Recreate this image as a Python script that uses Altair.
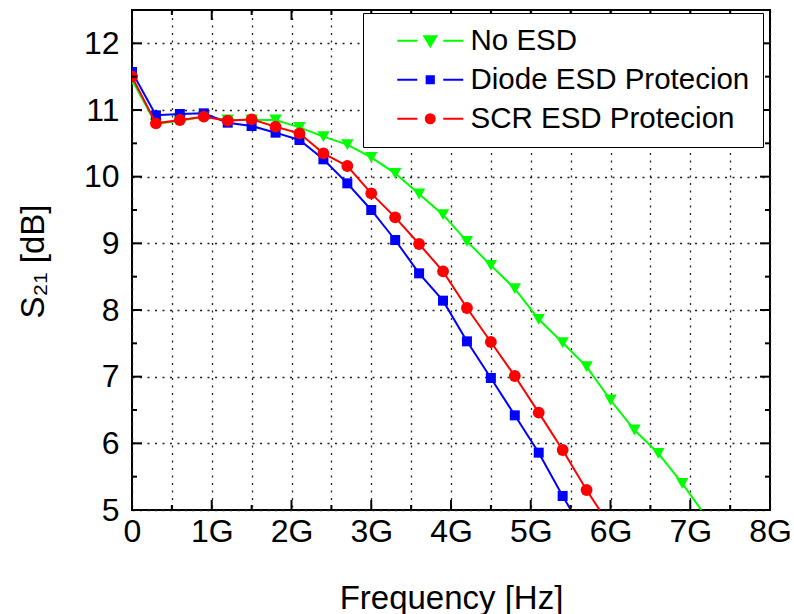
import altair as alt
import pandas as pd

# ---------------- data ----------------
series_names = ["No ESD", "Diode ESD Protecion", "SCR ESD Protecion"]
series_colors = ["#00ff00", "#0000ff", "#ff0000"]
series_shapes = ["triangle-down", "square", "circle"]

freq_ghz = [0.0, 0.3, 0.6, 0.9, 1.2, 1.5, 1.8, 2.1, 2.4, 2.7, 3.0, 3.3, 3.6,
            3.9, 4.2, 4.5, 4.8, 5.1, 5.4, 5.7, 6.0, 6.3, 6.6, 6.9, 7.2]

no_esd = [11.45, 10.79, 10.84, 10.90, 10.85, 10.85, 10.85, 10.74, 10.60, 10.48,
          10.29, 10.05, 9.74, 9.43, 9.03, 8.67, 8.32, 7.86, 7.51, 7.15,
          6.65, 6.20, 5.85, 5.40, 4.90]
diode_esd = [11.57, 10.92, 10.94, 10.95, 10.81, 10.76, 10.66, 10.55, 10.26, 9.90,
             9.50, 9.05, 8.55, 8.14, 7.53, 6.98, 6.42, 5.86, 5.21, 4.60]
scr_esd = [11.50, 10.80, 10.85, 10.90, 10.84, 10.86, 10.75, 10.65, 10.35, 10.16,
           9.75, 9.39, 8.99, 8.58, 8.03, 7.52, 7.01, 6.46, 5.90, 5.30, 4.75]

x_major = [0, 1, 2, 3, 4, 5, 6, 7, 8]
x_minor = [0.5, 1.5, 2.5, 3.5, 4.5, 5.5, 6.5, 7.5]
y_major = [5, 6, 7, 8, 9, 10, 11, 12]
y_minor = [5.5, 6.5, 7.5, 8.5, 9.5, 10.5, 11.5]
x_grid = sorted(x_major + x_minor)

# legend symbols: line segment + marker (custom SVG paths)
legend_paths = [
    "M-3.3,0L-1.3,0M1.3,0L3.3,0M-0.6,-0.45L0.6,-0.45L0,0.55Z",
    "M-3.3,0L-1.3,0M1.3,0L3.3,0M-0.36,-0.36L0.36,-0.36L0.36,0.36L-0.36,0.36Z",
    "M-3.3,0L-1.3,0M1.3,0L3.3,0M0.45,0A0.45,0.45 0 1,1 -0.45,0A0.45,0.45 0 1,1 0.45,0Z",
]
marker_sizes = [155, 100, 140]

FONT = "Liberation Sans"
W, H = 638, 500

xscale = alt.Scale(domain=[0, 8], nice=False, zero=False)
yscale = alt.Scale(domain=[5, 12.5], nice=False, zero=False)

xaxis = alt.Axis(
    values=x_grid,
    labelExpr="datum.value % 1 == 0 ? (datum.value == 0 ? '0' : datum.value + 'G') : ''",
    ticks=False, domain=False, grid=True, gridDash=[2, 5.5], gridColor="#222222",
    gridWidth=1.3, labelFont=FONT, labelFontSize=32, labelColor="black",
    labelPadding=6, labelFlush=False, labelOverlap=False,
    title="Frequency [Hz]", titleFont=FONT, titleFontSize=33, titleFontWeight="normal",
    titleColor="black", titleY=98, titleBaseline="alphabetic",
)
yaxis = alt.Axis(
    values=y_major, ticks=False, domain=False, grid=True, gridDash=[2, 5.5],
    gridColor="#222222", gridWidth=1.3, labelFont=FONT, labelFontSize=32,
    labelColor="black", labelPadding=13, labelFlush=False, labelOverlap=False,
    title="S₂₁ [dB]", titleFont=FONT, titleFontSize=33, titleFontWeight="normal",
    titleColor="black", titleX=-89, titleY=251, titleAngle=270,
    titleBaseline="alphabetic",
)

X = alt.X("freq:Q", scale=xscale, axis=xaxis)
Y = alt.Y("s21:Q", scale=yscale, axis=yaxis)

series_values = [no_esd, diode_esd, scr_esd]

layers = []
for name, color, shape, msize, vals in zip(series_names, series_colors,
                                            series_shapes, marker_sizes, series_values):
    df = pd.DataFrame({"freq": freq_ghz[:len(vals)], "s21": vals, "series": name})
    base = alt.Chart(df)
    layers.append(base.mark_line(color=color, strokeWidth=2, clip=True).encode(x=X, y=Y))
    layers.append(base.mark_point(filled=True, shape=shape, size=msize, color=color,
                                  opacity=1, clip=True).encode(x=X, y=Y))

# inward tick marks on all four sides
def xticks(vals, y0, y1):
    return alt.Chart(pd.DataFrame({"freq": vals})).mark_rule(
        color="black", strokeWidth=2).encode(x=X, y=alt.value(y0), y2=alt.value(y1))

def yticks(vals, x0, x1):
    return alt.Chart(pd.DataFrame({"s21": vals})).mark_rule(
        color="black", strokeWidth=2).encode(y=Y, x=alt.value(x0), x2=alt.value(x1))

layers += [
    xticks(x_major, H, H - 10), xticks(x_minor, H, H - 5),
    xticks(x_major, 0, 10), xticks(x_minor, 0, 5),
    yticks(y_major, 0, 10), yticks(y_minor, 0, 5),
    yticks(y_major, W, W - 10), yticks(y_minor, W, W - 5),
]

# legend-only layer (no visible data)
leg = alt.Legend(
    title=None, orient="none", legendX=231, legendY=3,
    symbolSize=400, symbolStrokeWidth=2, symbolOffset=39.5, labelOffset=25.5,
    labelFont=FONT, labelFontSize=29.5, labelColor="black", labelLimit=500,
    padding=13, rowPadding=8, strokeColor="black", fillColor="white",
)
leg_df = pd.DataFrame({"series": series_names, "freq": [0.0] * 3, "s21": [5.0] * 3})
legend_layer = alt.Chart(leg_df).mark_point(opacity=1, strokeWidth=2).encode(
    x=X, y=Y,
    fill=alt.Fill("series:N", scale=alt.Scale(domain=series_names, range=series_colors), legend=leg),
    stroke=alt.Stroke("series:N", scale=alt.Scale(domain=series_names, range=series_colors), legend=leg),
    shape=alt.Shape("series:N", scale=alt.Scale(domain=series_names, range=legend_paths), legend=leg),
).transform_filter("false")
layers.append(legend_layer)

chart = alt.layer(*layers).properties(
    width=W, height=H,
    padding={"left": 132, "top": 10, "right": 24, "bottom": 104},
    autosize=alt.AutoSizeParams(type="none"),
    background="white",
).configure_view(stroke="black", strokeWidth=2)

chart.save("out.html", embed_options={"renderer": "svg", "actions": False})
